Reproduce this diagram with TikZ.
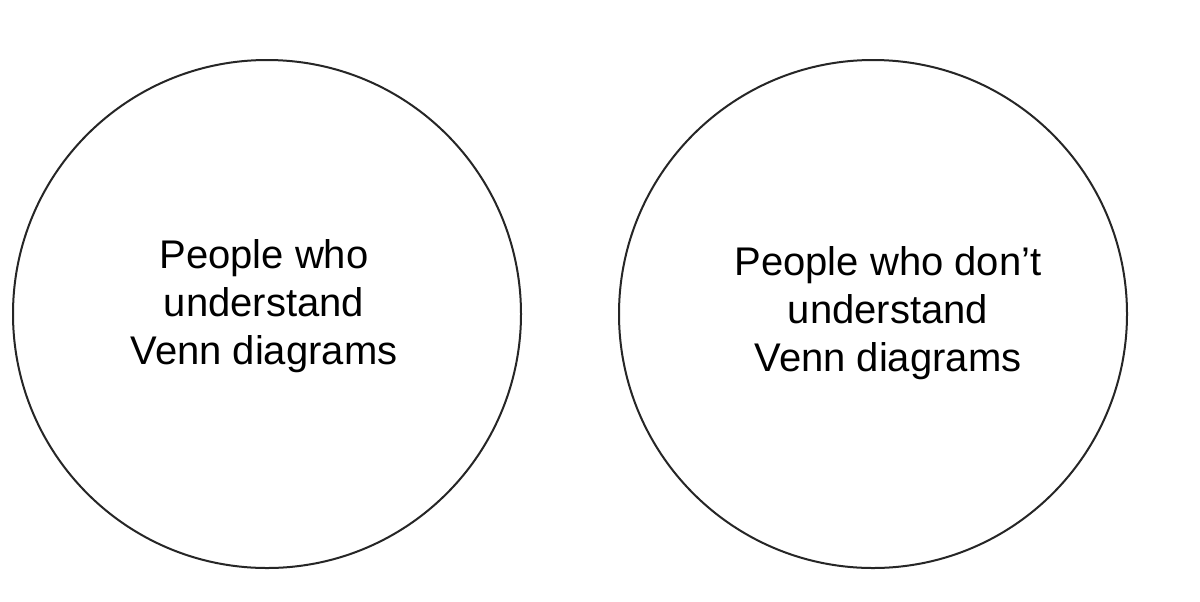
\documentclass[tikz,border=0pt]{standalone}
\usepackage{fontspec}
\setmainfont{Liberation Sans}
\begin{document}
\begin{tikzpicture}[x=0.5pt,y=-0.5pt,
  setcircle/.style={draw=black!85,line width=1pt,circle,minimum size=254pt,inner sep=0pt},
  setlabel/.style={align=center,font=\fontsize{20}{24}\selectfont,inner sep=0pt}]
  \useasboundingbox[fill=white] (0,0) rectangle (1200,601);
  % the two disjoint sets
  \node[setcircle] (left) at (267,314) {};
  \node[setcircle] (right) at (873,314) {};
  % their labels
  \node[setlabel] (lefttext) at (264,306) {People who\\understand\\Venn diagrams};
  \node[setlabel] (righttext) at (888,313) {People who don’t\\understand\\Venn diagrams};
\end{tikzpicture}
\end{document}
